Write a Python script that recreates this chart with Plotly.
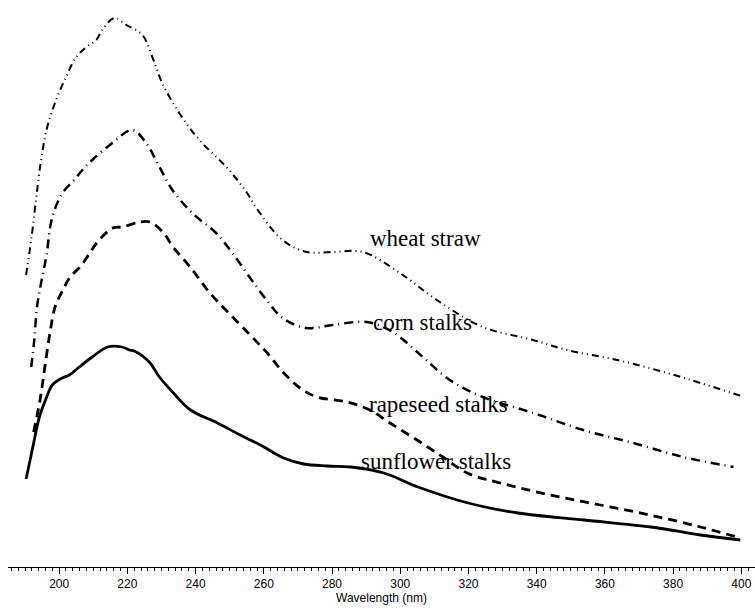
import plotly.graph_objects as go

# Wavelength (nm) and absorbance (arbitrary units)
wheat_wl = [190.3, 191.8, 193.2, 194.7, 196.5, 199.1, 202, 205, 208, 210.9, 212.6, 216.2, 219.7,
            224.4, 227.3, 230.2, 235.2, 241.1, 249, 254.9, 258, 265.5, 272.5, 280, 289, 299.9,
            310.7, 324.2, 338.9, 348.9, 363.6, 378.3, 388, 400]
wheat_abs = [2.92, 3.27, 3.67, 4.07, 4.40, 4.67, 4.90, 5.10, 5.20, 5.27, 5.37, 5.49, 5.42,
             5.32, 5.10, 4.84, 4.54, 4.27, 4.00, 3.75, 3.58, 3.27, 3.15, 3.15, 3.15, 2.94,
             2.67, 2.40, 2.27, 2.17, 2.07, 1.94, 1.84, 1.71]

corn_wl = [191.8, 192.7, 193.5, 194.7, 196.2, 198, 201, 204.4, 206.8, 209.7, 215.6, 221.4,
           225.5, 229.4, 233.2, 239, 246, 250.8, 255.8, 260.8, 265.5, 272.5, 280.2, 290.2,
           297.8, 306.6, 314.5, 324.2, 339, 353.6, 368.3, 383, 397.7]
corn_abs = [2.00, 2.27, 2.60, 2.84, 3.10, 3.50, 3.74, 3.87, 3.97, 4.07, 4.24, 4.37,
            4.24, 4.00, 3.77, 3.54, 3.34, 3.14, 2.90, 2.67, 2.49, 2.39, 2.42, 2.45,
            2.35, 2.10, 1.87, 1.70, 1.54, 1.37, 1.24, 1.10, 1.00]

rape_wl = [192.5, 194.4, 195.8, 197.3, 198.8, 201.1, 203.2, 206.1, 209, 211, 215.7, 218.6,
           223.6, 226.6, 230.4, 233.4, 238.4, 244.2, 250, 256, 261, 265.6, 270.6, 275.6,
           284.4, 291.1, 297, 304.9, 312.5, 319.6, 329.3, 344, 358.6, 373.2, 388, 399.7]
rape_abs = [1.35, 1.67, 2.00, 2.34, 2.60, 2.77, 2.90, 3.00, 3.14, 3.24, 3.39, 3.40,
            3.45, 3.45, 3.35, 3.20, 3.00, 2.74, 2.53, 2.32, 2.14, 1.95, 1.79, 1.70,
            1.65, 1.57, 1.44, 1.27, 1.10, 0.94, 0.84, 0.72, 0.62, 0.52, 0.40, 0.29]

sun_wl = [190.3, 192.1, 194.2, 196, 198, 200.9, 203, 205.9, 209.7, 214.2, 218.4, 220.6,
          222, 226.4, 229.4, 233.5, 238.5, 246.4, 253.1, 259, 265.8, 271.7, 278.7, 285.5,
          295.2, 305.2, 319.9, 334.5, 353.9, 373.5, 388, 399.7]
sun_abs = [0.88, 1.17, 1.50, 1.67, 1.82, 1.89, 1.92, 2.00, 2.10, 2.20, 2.20, 2.17,
           2.16, 2.05, 1.90, 1.74, 1.57, 1.44, 1.32, 1.22, 1.09, 1.03, 1.01, 1.00,
           0.94, 0.80, 0.64, 0.54, 0.47, 0.40, 0.32, 0.27]

labels = ["wheat straw", "corn stalks", "rapeseed stalks", "sunflower stalks"]
label_wl = [307.5, 306.6, 311.3, 310.5]
label_abs = [3.29, 2.45, 1.63, 1.06]

tick_vals = [200, 220, 240, 260, 280, 300, 320, 340, 360, 380, 400]

fig = go.Figure()
fig.add_trace(go.Scatter(x=wheat_wl, y=wheat_abs, mode="lines", line_shape="spline",
                         line=dict(color="black", width=2, dash="7px,4px,1px,4px,1px,4px")))
fig.add_trace(go.Scatter(x=corn_wl, y=corn_abs, mode="lines", line_shape="spline",
                         line=dict(color="black", width=2.5, dash="9px,5px,1px,5px")))
fig.add_trace(go.Scatter(x=rape_wl, y=rape_abs, mode="lines", line_shape="spline",
                         line=dict(color="black", width=2.8, dash="9px,6px")))
fig.add_trace(go.Scatter(x=sun_wl, y=sun_abs, mode="lines", line_shape="spline",
                         line=dict(color="black", width=2.8)))

for t, xx, yy in zip(labels, label_wl, label_abs):
    fig.add_annotation(x=xx, y=yy, text=t, showarrow=False,
                       font=dict(family="Liberation Serif", size=23, color="black"),
                       xanchor="center", yanchor="middle")

fig.update_layout(
    width=755, height=610,
    margin=dict(l=8, r=0, t=0, b=43),
    paper_bgcolor="white", plot_bgcolor="white",
    showlegend=False,
    hovermode=False,
    font=dict(family="Liberation Sans", size=12, color="black"),
)
fig.update_xaxes(
    range=[185, 404], showgrid=False, zeroline=False,
    showline=True, linecolor="black", linewidth=1,
    ticks="outside", ticklen=6, tickcolor="black", tickwidth=1,
    tickvals=tick_vals, ticktext=[str(v) for v in tick_vals],
    tickfont=dict(family="Liberation Sans", size=12, color="black"),
    ticklabeloverflow="allow",
    minor=dict(dtick=2, tick0=200, ticks="outside", ticklen=3, tickcolor="black", tickwidth=1),
    title=dict(text="Wavelength (nm)", font=dict(family="Liberation Sans", size=12, color="black"),
               standoff=2),
    automargin=False,
)
fig.update_yaxes(range=[0, 5.67], visible=False)

# remove the default page margin so the figure fills the window exactly
fig.write_html("out.html",
               config={"displayModeBar": False, "staticPlot": True},
               post_script="document.body.style.margin='0px'; document.body.style.overflow='hidden';")
